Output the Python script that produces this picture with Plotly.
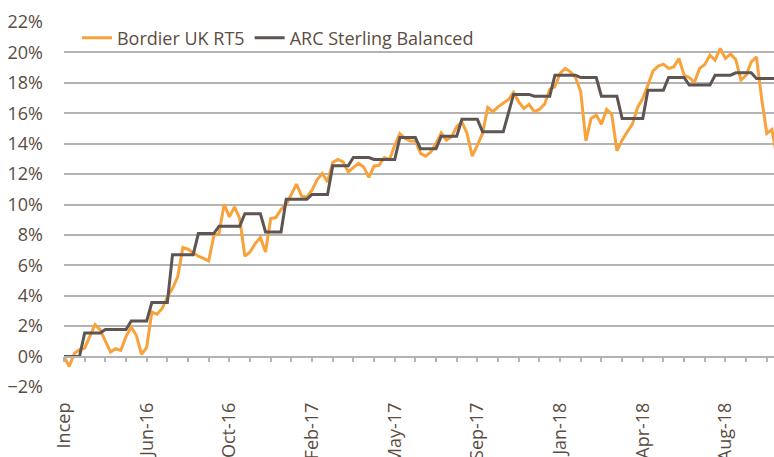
import plotly.graph_objects as go

# ---- data (weekly points, index 0 = inception) ----
tick_labels = ["Incep", "Jun-16", "Oct-16", "Feb-17", "May-17",
               "Sep-17", "Jan-18", "Apr-18", "Aug-18"]
label_step = 16      # categories between labels
minor_step = 4       # categories between tick marks

bordier = [
    0.00, -0.64, 0.20, 0.46, 0.55, 1.30, 2.10, 1.75, 1.05, 0.30,
    0.52, 0.41, 1.32, 1.93, 1.40, 0.15, 0.61, 2.93, 2.78, 3.16,
    3.92, 4.47, 5.24, 7.17, 7.06, 6.82, 6.60, 6.45, 6.29, 7.95,
    8.09, 10.02, 9.19, 9.84, 9.08, 6.60, 6.88, 7.43, 7.83, 6.88,
    9.08, 9.14, 9.67, 10.00, 10.72, 11.34, 10.55, 10.50, 10.94, 11.64,
    12.04, 11.49, 12.76, 12.96, 12.80, 12.15, 12.43, 12.70, 12.47, 11.78,
    12.52, 12.59, 13.09, 12.96, 13.90, 14.67, 14.34, 14.18, 14.18, 13.36,
    13.18, 13.46, 14.01, 14.71, 14.23, 14.45, 15.11, 15.43, 14.67, 13.18,
    13.90, 14.67, 16.38, 16.10, 16.42, 16.64, 16.90, 17.37, 16.75, 16.32,
    16.58, 16.10, 16.25, 16.60, 17.57, 17.74, 18.62, 18.95, 18.72, 18.35,
    17.41, 14.18, 15.66, 15.88, 15.28, 16.25, 15.94, 13.53, 14.23, 14.78,
    15.28, 16.38, 16.97, 17.85, 18.79, 19.10, 19.23, 18.95, 19.05, 19.60,
    18.50, 18.35, 18.03, 18.95, 19.20, 19.82, 19.49, 20.26, 19.60, 19.89,
    19.54, 18.18, 18.50, 19.38, 19.71, 17.00, 14.67, 14.93, 13.00,
]

arc = [
    0.00, 0.00, 0.00, 0.00,
    1.55, 1.55, 1.55, 1.55,
    1.78, 1.78, 1.78, 1.78, 1.78,
    2.34, 2.34, 2.34, 2.34,
    3.55, 3.55, 3.55, 3.55,
    6.70, 6.70, 6.70, 6.70, 6.70,
    8.09, 8.09, 8.09, 8.09,
    8.57, 8.57, 8.57, 8.57, 8.57,
    9.40, 9.40, 9.40, 9.40,
    8.20, 8.20, 8.20, 8.20,
    10.35, 10.35, 10.35, 10.35, 10.35,
    10.66, 10.66, 10.66, 10.66,
    12.54, 12.54, 12.54, 12.54,
    13.09, 13.09, 13.09, 13.09,
    12.96, 12.96, 12.96, 12.96, 12.96,
    14.40, 14.40, 14.40, 14.40,
    13.66, 13.66, 13.66, 13.66,
    14.49, 14.49, 14.49, 14.49,
    15.60, 15.60, 15.60, 15.60,
    14.78, 14.78, 14.78, 14.78, 14.78,
    16.00,
    17.24, 17.24, 17.24, 17.24,
    17.12, 17.12, 17.12, 17.12,
    18.50, 18.50, 18.50, 18.50, 18.50,
    18.35, 18.35, 18.35, 18.35,
    17.12, 17.12, 17.12, 17.12,
    15.66, 15.66, 15.66, 15.66, 15.66,
    17.52, 17.52, 17.52, 17.52,
    18.35, 18.35, 18.35, 18.35,
    17.85, 17.85, 17.85, 17.85, 17.85,
    18.50, 18.50, 18.50, 18.50,
    18.66, 18.66, 18.66, 18.66,
    18.29, 18.29, 18.29, 18.29, 18.29,
]

x = list(range(len(bordier)))
x_max = 137.4

ORANGE = "#F7A23B"
DARK = "#5E5552"
TEXT = "#5B4D42"
GRID = "#B3B3B3"
FONT = "Open Sans"
FS = 18

fig = go.Figure()
fig.add_trace(go.Scatter(x=x, y=[v / 100 for v in bordier], mode="lines",
                         name="Bordier UK RT5",
                         line=dict(color=ORANGE, width=3)))
fig.add_trace(go.Scatter(x=x, y=[v / 100 for v in arc], mode="lines",
                         name="ARC Sterling Balanced", xaxis="x2",
                         line=dict(color=DARK, width=3)))

fig.update_layout(
    width=774, height=457,
    margin=dict(l=64, r=0, t=22, b=70),
    paper_bgcolor="white", plot_bgcolor="white",
    font=dict(family=FONT, size=FS, color=TEXT),
    showlegend=True,
    legend=dict(orientation="h", x=0.0183, xanchor="left",
                y=0.956, yanchor="middle",
                font=dict(family=FONT, size=FS, color=TEXT),
                bgcolor="rgba(255,255,255,0)"),
    xaxis=dict(range=[0, x_max], tickvals=list(range(0, len(x), label_step)),
               ticktext=tick_labels, tickangle=-90, ticks="",
               showgrid=False, zeroline=False, showline=False,
               ticklabelstandoff=11, automargin=False,
               tickfont=dict(family=FONT, size=FS, color=TEXT)),
    xaxis2=dict(overlaying="x", matches="x", anchor="free",
                position=2 / 24, side="bottom", automargin=False,
                showline=True, linecolor=GRID, linewidth=1.5,
                ticks="outside", ticklen=5, tickcolor=GRID, tickwidth=1.5,
                tickvals=list(range(0, len(x), minor_step)),
                showticklabels=False, showgrid=False, zeroline=False),
    yaxis=dict(range=[-0.02, 0.22], dtick=0.02, tickformat=".0%",
               showgrid=True, gridcolor=GRID, gridwidth=1.5,
               zeroline=False, ticks="", ticklabelstandoff=20,
               automargin=False,
               tickfont=dict(family=FONT, size=FS, color=TEXT)),
)

fig.write_html("out.html", config={"displayModeBar": False},
               post_script="document.body.style.margin='0';")
